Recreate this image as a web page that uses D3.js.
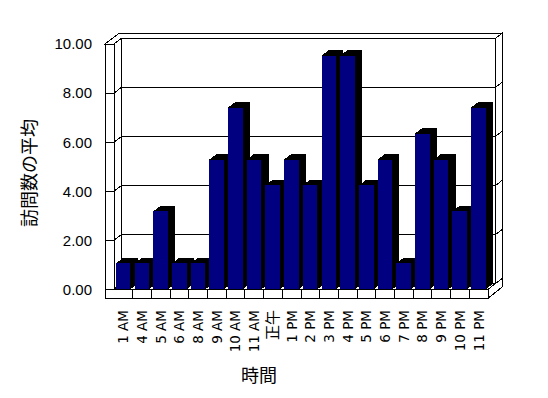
<!DOCTYPE html>
<html><head><meta charset="utf-8">
<script src="https://cdn.jsdelivr.net/npm/d3@7"></script>
<style>
html,body{margin:0;padding:0;background:#fff;}
svg{display:block;}
</style></head>
<body>
<script>
const categories = ["1 AM","4 AM","5 AM","6 AM","8 AM","9 AM","10 AM","11 AM","正午","1 PM","2 PM","3 PM","4 PM","5 PM","6 PM","7 PM","8 PM","9 PM","10 PM","11 PM"];
const values = [1.06,1.06,3.18,1.06,1.06,5.29,7.41,5.29,4.24,5.29,4.24,9.53,9.53,4.24,5.29,1.06,6.35,5.29,3.18,7.41];
const yTicks = [0,2,4,6,8,10];
const yTitle = "訪問数の平均";
const xTitle = "時間";

const W = 548, H = 398;
const DX = 7.2, DY = -5.5;      // depth of plot area
const WALL = 9;                 // wall / floor thickness
const x0 = 114, x1 = 488, yBase = 289.3, yTop = 44;

const svg = d3.select("body").append("svg").attr("width", W).attr("height", H)
  .attr("shape-rendering", "crispEdges");
svg.append("rect").attr("width", W).attr("height", H).attr("fill", "#fff");

const x = d3.scaleBand().domain(categories).range([x0, x1]).padding(0);
const y = d3.scaleLinear().domain([0, 10]).range([yBase, yTop]);
const bw = x.bandwidth();

const line = (g, a, b, c, d) => g.append("line").attr("x1", a).attr("y1", b).attr("x2", c).attr("y2", d)
  .attr("stroke", "#000").attr("stroke-width", 1);

const frame = svg.append("g");
frame.append("polygon")
  .attr("points", [[x1, yBase], [x1, yBase + WALL], [x1 + 2 * DX, yBase + WALL + 2 * DY - 0.5],
                   [x1 + 2 * DX, y(10) + 2 * DY], [x1 + DX, y(10) + DY], [x1 + DX, yBase + DY]].map(p => p.join(",")).join(" "))
  .attr("fill", "#fff").attr("stroke", "#000");
frame.append("polygon")
  .attr("points", [[x0 - WALL, y(10)], [x0 - WALL + 2 * DX, y(10) + 2 * DY], [x1 + 2 * DX, y(10) + 2 * DY],
                   [x1 + DX, y(10) + DY], [x0 + DX, y(10) + DY], [x0, y(10)]].map(p => p.join(",")).join(" "))
  .attr("fill", "#fff").attr("stroke", "#000");
frame.append("rect").attr("x", x0 - WALL).attr("y", y(10)).attr("width", WALL).attr("height", yBase + WALL - y(10))
  .attr("fill", "#fff").attr("stroke", "#000");
frame.append("rect").attr("x", x0 - WALL).attr("y", yBase).attr("width", x1 - x0 + WALL).attr("height", WALL)
  .attr("fill", "#fff").attr("stroke", "#000");
line(frame, x0 + DX, y(10) + DY, x0 + DX, yBase + DY);

const grid = svg.append("g");
yTicks.forEach(v => {
  const yf = y(v);
  line(grid, x0 - WALL, yf, x0, yf);
  line(grid, x0, yf, x0 + DX, yf + DY);
  line(grid, x0 + DX, yf + DY, x1 + DX, yf + DY);
  line(grid, x1 + DX, yf + DY, x1 + 2 * DX, yf + 2 * DY);
});

const bars = svg.append("g");
const fw = bw * 0.78, off = bw * 0.1;
categories.forEach((c, i) => {
  const v = values[i];
  const fx = x(c) + off, yt = y(v);
  bars.append("polygon")
    .attr("points", [[fx + fw, yt], [fx + fw + DX, yt + DY], [fx + fw + DX, yBase + DY], [fx + fw, yBase]].map(p => p.join(",")).join(" "))
    .attr("fill", "#000");
  bars.append("polygon")
    .attr("points", [[fx, yt], [fx + DX, yt + DY], [fx + fw + DX, yt + DY], [fx + fw, yt]].map(p => p.join(",")).join(" "))
    .attr("fill", "#000");
  bars.append("rect").attr("x", fx).attr("y", yt).attr("width", fw).attr("height", yBase - yt)
    .attr("fill", "#000080");
});

const div = svg.append("g");
categories.slice(1).forEach(c => line(div, x(c), yBase, x(c), yBase + WALL));
line(div, x0 - WALL, yBase, x1, yBase);

const lab = svg.append("g").attr("font-family", "'Liberation Sans', Arial, sans-serif").attr("font-size", 15).attr("fill", "#000");
yTicks.forEach(v => {
  lab.append("text").attr("x", 92).attr("y", y(v)).attr("dy", "0.36em").attr("text-anchor", "end")
    .text(d3.format(".2f")(v));
});

const xl = svg.append("g").attr("font-family", "'DejaVu Sans', 'Noto Sans CJK JP', sans-serif").attr("fill", "#000");
categories.forEach(c => {
  const cx = x(c) + bw / 2;
  const cjk = /[\u3000-\u9fff]/.test(c);
  xl.append("text").attr("transform", `translate(${cx},310) rotate(-90)`)
    .attr("text-anchor", "end").attr("dy", "0.36em")
    .attr("font-size", cjk ? 15 : 13.5)
    .attr("font-family", cjk ? "'Noto Sans CJK JP', sans-serif" : null)
    .text(c);
});

svg.append("text").attr("transform", "translate(30,173) rotate(-90)").attr("text-anchor", "middle").attr("dy", "0.36em")
  .attr("font-family", "'Noto Sans CJK JP', sans-serif").attr("font-size", 18).text(yTitle);
svg.append("text").attr("x", 259).attr("y", 376).attr("text-anchor", "middle").attr("dy", "0.36em")
  .attr("font-family", "'Noto Sans CJK JP', sans-serif").attr("font-size", 18).text(xTitle);
</script>
</body></html>
